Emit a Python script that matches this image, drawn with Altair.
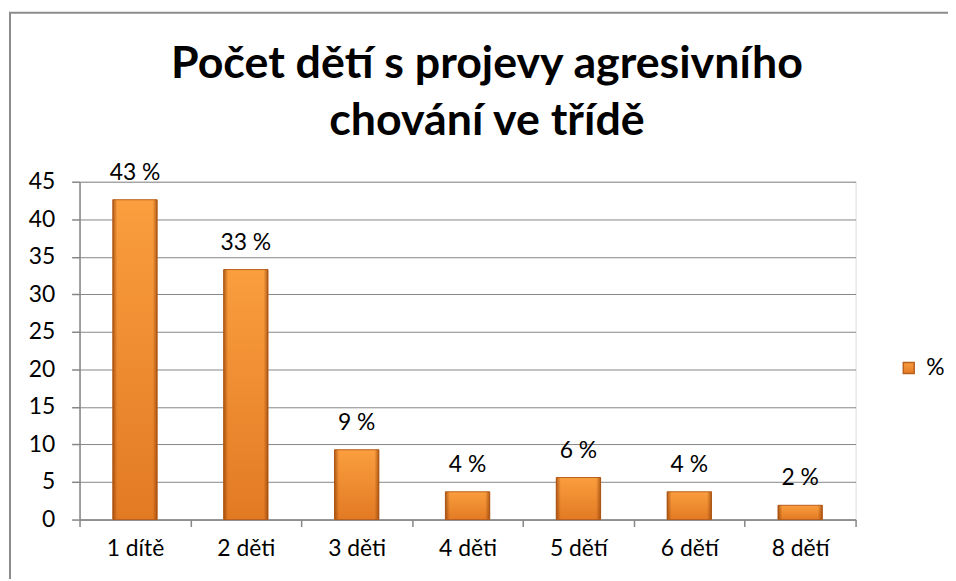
import altair as alt
import pandas as pd

categories = ["1 dítě", "2 děti", "3 děti", "4 děti", "5 dětí", "6 dětí", "8 dětí"]
values = [42.6, 33.3, 9.3, 3.7, 5.6, 3.7, 1.9]
series_name = "%"
title_lines = ["Počet dětí s projevy agresivního", "chování ve třídě"]
y_ticks = [0, 5, 10, 15, 20, 25, 30, 35, 40, 45]

FONT = "Lato"
GRAY = "#868686"
FS = 23

df = pd.DataFrame({"cat": categories, "v": values, "s": [series_name] * len(categories)})

x_enc = alt.X("cat:N", sort=categories,
              scale=alt.Scale(paddingInner=0, paddingOuter=0),
              axis=alt.Axis(title=None, labelAngle=0, tickBand="extent", grid=False,
                            domainColor=GRAY, domainWidth=1.5, tickColor=GRAY, tickWidth=1.5,
                            tickSize=7, labelFontSize=FS, labelFont=FONT, labelColor="black",
                            labelPadding=11))
y_enc = alt.Y("v:Q", scale=alt.Scale(domain=[0, 45], nice=False),
              axis=alt.Axis(title=None, values=y_ticks, tickCount=10, labelOverlap=False,
                            grid=True, gridColor=GRAY, gridWidth=1,
                            domainColor=GRAY, domainWidth=1.5, tickColor=GRAY, tickWidth=1.5,
                            tickSize=8, labelFontSize=FS, labelFont=FONT, labelColor="black",
                            labelPadding=17))

vert_grad = alt.Gradient(gradient="linear", x1=0, y1=0, x2=0, y2=1,
                         stops=[alt.GradientStop(offset=0, color="#FA9E3E"),
                                alt.GradientStop(offset=1, color="#E27A24")])
horiz_grad = alt.Gradient(gradient="linear", x1=0, y1=0, x2=1, y2=0,
                          stops=[alt.GradientStop(offset=0, color="rgba(140,60,5,0.65)"),
                                 alt.GradientStop(offset=0.1, color="rgba(140,60,5,0)"),
                                 alt.GradientStop(offset=0.9, color="rgba(140,60,5,0)"),
                                 alt.GradientStop(offset=1, color="rgba(140,60,5,0.65)")])

base = alt.Chart(df)

bars = base.mark_bar(width=alt.RelativeBandSize(0.4), fill=vert_grad, strokeWidth=1).encode(
    x=x_enc, y=y_enc,
    stroke=alt.Stroke("s:N", scale=alt.Scale(range=["#B9601C"]),
                      legend=alt.Legend(title=None, orient="none", legendX=823, legendY=176,
                                        symbolType="square", symbolSize=120,
                                        symbolFillColor="#F39233", symbolStrokeColor="#B9601C",
                                        labelFontSize=FS, labelFont=FONT, labelColor="black",
                                        labelOffset=6)),
)

shade = base.mark_bar(width=alt.RelativeBandSize(0.4), fill=horiz_grad).encode(
    x=alt.X("cat:N", sort=categories), y="v:Q"
)

labels = base.transform_calculate(
    lbl="format(datum.v, '.0f') + ' %'"
).mark_text(baseline="alphabetic", dy=-20, fontSize=FS, font=FONT, color="black").encode(
    x=alt.X("cat:N", sort=categories), y="v:Q", text="lbl:N"
)

title = alt.Chart(pd.DataFrame({"t": ["\n".join(title_lines)]})).mark_text(
    lineBreak="\n", lineHeight=57, baseline="alphabetic", align="center",
    fontSize=45, fontWeight="bold", font=FONT, color="black"
).encode(x=alt.value(410), y=alt.value(-104), text="t:N")

border = alt.Chart(pd.DataFrame({"b": [1]})).mark_rect(
    filled=False, stroke="#8C8C8C", strokeWidth=2
).encode(x=alt.value(-70), x2=alt.value(950), y=alt.value(-170), y2=alt.value(700))

chart = alt.layer(border, bars, shade, labels, title).properties(
    width=781, height=340,
    autosize=alt.AutoSizeParams(type="none"),
    padding={"left": 72, "top": 173, "right": 93, "bottom": 58},
).configure_view(stroke=None).configure(background="white")

chart.save("out.html", embed_options={"renderer": "svg", "actions": False})
